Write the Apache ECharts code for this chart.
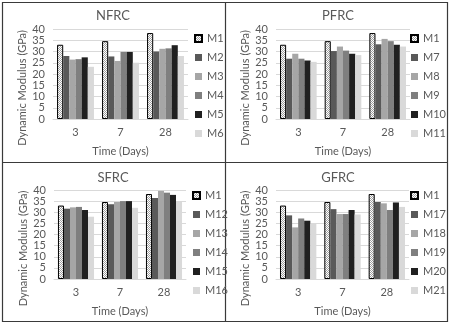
<!DOCTYPE html>
<html>
<head>
<meta charset="utf-8">
<script src="https://cdn.jsdelivr.net/npm/echarts@6/dist/echarts.min.js"></script>
<style>
  html, body { margin: 0; padding: 0; background: #fff; }
  #chart { width: 450px; height: 324px; }
</style>
</head>
<body>
<div id="chart"></div>
<script>
// 数据
const days = ['3', '7', '28']
const yTicks = [0, 5, 10, 15, 20, 25, 30, 35, 40]

const nfrcNames = ['M1', 'M2', 'M3', 'M4', 'M5', 'M6']
const nfrcValues = [
  [33, 34.6, 38.2],
  [28, 27.8, 30],
  [26.4, 25.8, 31.2],
  [26.6, 29.8, 31.4],
  [27.4, 29.8, 32.8],
  [23.2, 25, 28]
]

const pfrcNames = ['M1', 'M7', 'M8', 'M9', 'M10', 'M11']
const pfrcValues = [
  [33, 34.6, 38.2],
  [26.8, 30.2, 33.2],
  [29, 32.2, 35.6],
  [26.8, 30.4, 34.6],
  [26, 29, 33],
  [25.4, 28.4, 32.2]
]

const sfrcNames = ['M1', 'M12', 'M13', 'M14', 'M15', 'M16']
const sfrcValues = [
  [33, 34.6, 38.2],
  [31.6, 33.6, 36.4],
  [32.2, 34.6, 39.6],
  [32.4, 35, 38.8],
  [31, 35, 37.8],
  [28, 32, 35]
]

const gfrcNames = ['M1', 'M17', 'M18', 'M19', 'M20', 'M21']
const gfrcValues = [
  [33, 34.6, 38.2],
  [28.6, 31.4, 34.6],
  [23.2, 29.2, 34],
  [27.2, 29.2, 31],
  [26.2, 31, 34.4],
  [25, 29, 32.4]
]

const panelTitles = ['NFRC', 'PFRC', 'SFRC', 'GFRC']
const panelNames = [nfrcNames, pfrcNames, sfrcNames, gfrcNames]
const panelValues = [nfrcValues, pfrcValues, sfrcValues, gfrcValues]

// M1 的网点填充
function makePattern() {
  const c = document.createElement('canvas')
  c.width = 2
  c.height = 2
  const ctx = c.getContext('2d')
  ctx.fillStyle = '#ffffff'
  ctx.fillRect(0, 0, 2, 2)
  ctx.fillStyle = '#a0a0a0'
  ctx.fillRect(0, 0, 1, 1)
  ctx.fillRect(1, 1, 1, 1)
  return c
}
const dotPattern = makePattern()

const barColors = [null, '#595959', '#a6a6a6', '#7f7f7f', '#202020', '#d9d9d9']

const fontFamily = 'Lato, "Open Sans", sans-serif'
const textColor = '#595959'

// 四个面板的位置
const grids = [
  { left: 53, top: 29, width: 135, height: 90 },
  { left: 276, top: 29, width: 134, height: 90 },
  { left: 54, top: 190, width: 132, height: 89 },
  { left: 276, top: 190, width: 133, height: 89 }
]
const titlePos = [[113, 9], [338, 9], [113, 171], [338, 171]]
const legendPos = [[194, 32], [410, 32], [192, 189], [410, 189]]

const chart = echarts.init(document.getElementById('chart'))

const series = []
panelNames.forEach((names, p) => {
  names.forEach((name, i) => {
    const isM1 = i === 0
    series.push({
      name: name,
      type: 'bar',
      xAxisIndex: p,
      yAxisIndex: p,
      data: panelValues[p][i],
      barGap: 0,
      barCategoryGap: '18%',
      itemStyle: isM1
        ? { color: { image: dotPattern, repeat: 'repeat' }, borderColor: '#000', borderWidth: 1 }
        : { color: barColors[i] },
      emphasis: { disabled: true }
    })
  })
})

const option = {
  animation: false,
  textStyle: { fontFamily: fontFamily },
  title: panelTitles.map((t, p) => ({
    text: t,
    left: titlePos[p][0],
    top: titlePos[p][1],
    padding: 0,
    textAlign: 'center',
    textStyle: { color: textColor, fontSize: 13, fontWeight: 'normal', fontFamily: fontFamily }
  })),
  grid: grids,
  legend: panelNames.map((names, p) => ({
    data: names,
    orient: 'vertical',
    left: legendPos[p][0],
    top: legendPos[p][1],
    padding: 0,
    itemWidth: 7,
    itemHeight: 7,
    itemGap: 6,
    icon: 'rect',
    selectedMode: false,
    textStyle: { color: textColor, fontSize: 11, lineHeight: 13, fontFamily: fontFamily }
  })),
  xAxis: panelNames.map((n, p) => ({
    type: 'category',
    gridIndex: p,
    data: days,
    name: 'Time (Days)',
    nameLocation: 'middle',
    nameGap: 27,
    nameTextStyle: { color: textColor, fontSize: 11 },
    axisLine: { lineStyle: { color: '#d9d9d9' } },
    axisTick: { show: false },
    axisLabel: { color: textColor, fontSize: 11, margin: 8 }
  })),
  yAxis: panelNames.map((n, p) => ({
    type: 'value',
    gridIndex: p,
    min: yTicks[0],
    max: yTicks[yTicks.length - 1],
    interval: 5,
    name: 'Dynamic Modulus (GPa)',
    nameLocation: 'middle',
    nameGap: 21,
    nameTextStyle: { color: textColor, fontSize: 11, padding: [0, 28, 0, 0] },
    axisLine: { show: false },
    axisTick: { show: false },
    axisLabel: { color: textColor, fontSize: 11, margin: 8 },
    splitLine: { lineStyle: { color: '#d9d9d9' } }
  })),
  graphic: [
    { type: 'rect', shape: { x: 2.5, y: 2.5, width: 445, height: 319 }, style: { fill: 'none', stroke: '#3a3a3a', lineWidth: 1.2 } },
    { type: 'line', shape: { x1: 225.5, y1: 2, x2: 225.5, y2: 322 }, style: { stroke: '#3a3a3a', lineWidth: 1.2 } },
    { type: 'line', shape: { x1: 2, y1: 162.5, x2: 448, y2: 162.5 }, style: { stroke: '#3a3a3a', lineWidth: 1.2 } }
  ],
  series: series
}

chart.setOption(option)
</script>
</body>
</html>
